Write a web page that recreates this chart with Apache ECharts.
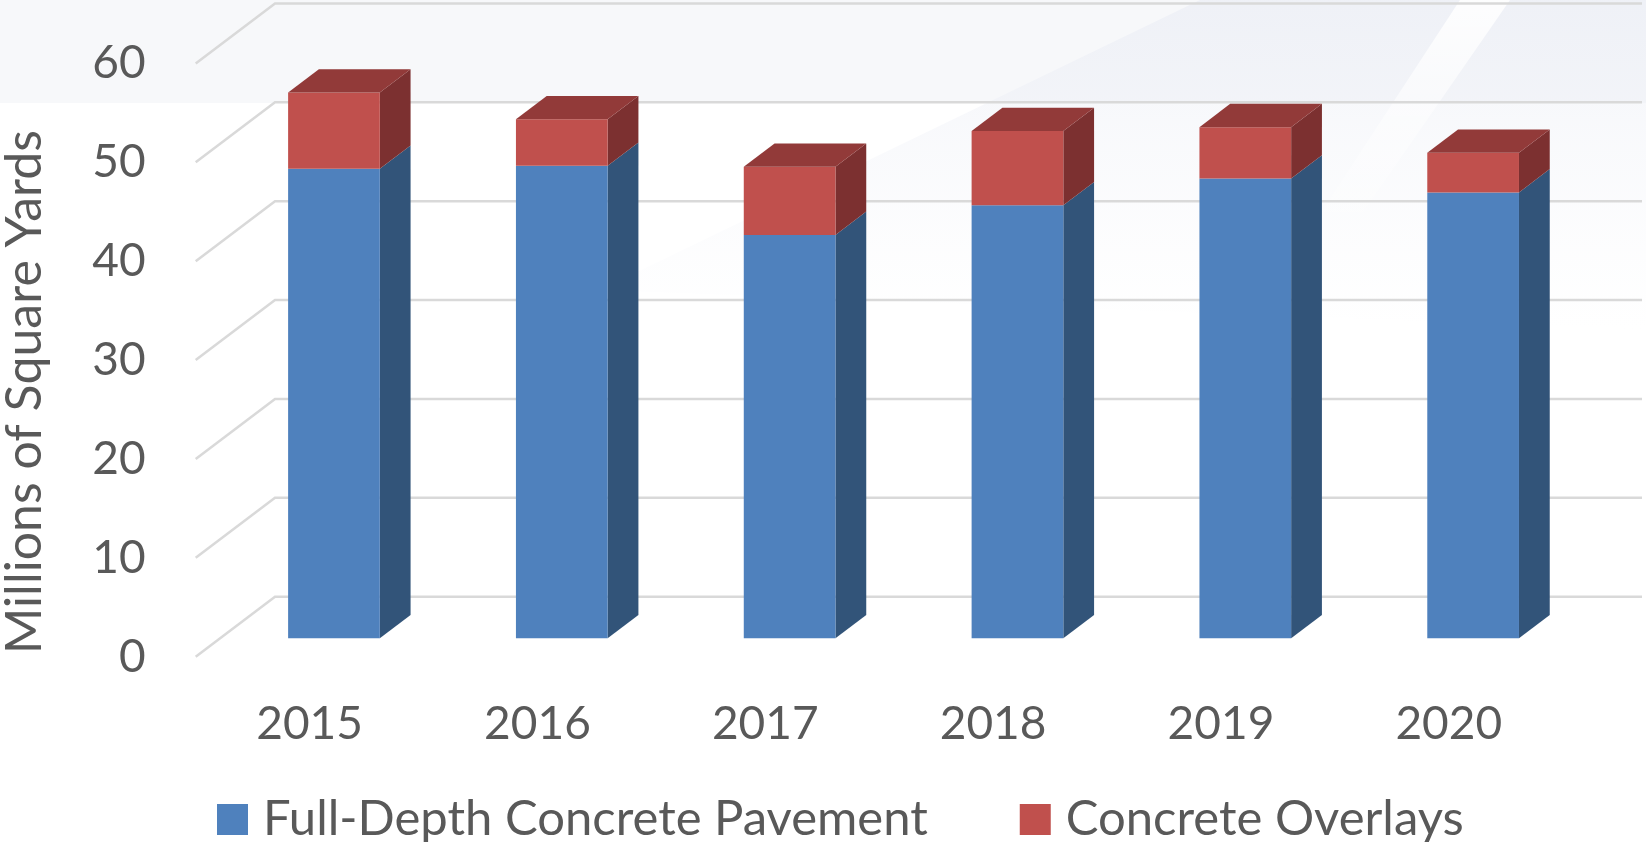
<!DOCTYPE html>
<html>
<head>
<meta charset="utf-8">
<script src="https://cdn.jsdelivr.net/npm/echarts@6/dist/echarts.min.js"></script>
<style>
  html, body { margin: 0; padding: 0; background: #ffffff; }
  #chart { width: 1646px; height: 842px; }
</style>
</head>
<body>
<div id="chart"></div>
<script>
// Yearly concrete paving, millions of square yards
const years = ['2015', '2016', '2017', '2018', '2019', '2020'];
const fullDepth = [47.5, 47.8, 40.8, 43.8, 46.5, 45.1];
const overlays = [7.7, 4.7, 6.9, 7.5, 5.2, 4.0];
const yTicks = [0, 10, 20, 30, 40, 50, 60];

const seriesNames = ['Full-Depth Concrete Pavement', 'Concrete Overlays'];
const TEXT = '#595959';
const FONT = 'Lato, "Open Sans", sans-serif';

// Oblique projection: full floor depth, in pixels (goes right and up)
const DEPTH_X = 79.3;
const DEPTH_Y = -60;
// Bars occupy the middle of the floor depth
const BAR_FRONT = 0.307;
const BAR_BACK = 0.695;
// Front face width as a share of the category band
const BAR_RATIO = 0.4025;

const palette = {
  blue: { front: '#4f81bd', side: '#325479', top: '#3f6798' },
  red:  { front: '#c0504d', side: '#7c3030', top: '#923a39' }
};

function prismRenderer(colors, withTop) {
  return function (params, api) {
    const cat = api.value(0);
    const base = api.value(1);
    const top = api.value(2);
    const band = api.size([1, 0])[0];
    const w = band * BAR_RATIO;
    const pb = api.coord([cat, base]);
    const pt = api.coord([cat, top]);
    const fx = pb[0] - w / 2 + DEPTH_X * BAR_FRONT;
    const fyb = pb[1] + DEPTH_Y * BAR_FRONT;
    const fyt = pt[1] + DEPTH_Y * BAR_FRONT;
    const dx = DEPTH_X * (BAR_BACK - BAR_FRONT);
    const dy = DEPTH_Y * (BAR_BACK - BAR_FRONT);
    const children = [
      {
        type: 'polygon',
        shape: { points: [[fx + w, fyb], [fx + w + dx, fyb + dy], [fx + w + dx, fyt + dy], [fx + w, fyt]] },
        style: { fill: colors.side }
      },
      {
        type: 'rect',
        shape: { x: fx, y: fyt, width: w, height: fyb - fyt },
        style: { fill: colors.front }
      }
    ];
    if (withTop) {
      children.push({
        type: 'polygon',
        shape: { points: [[fx, fyt], [fx + w, fyt], [fx + w + dx, fyt + dy], [fx + dx, fyt + dy]] },
        style: { fill: colors.top }
      });
    }
    return { type: 'group', children: children };
  };
}

// Side-wall diagonal plus back-wall line for each value tick
function wallLineRenderer(params, api) {
  const cs = params.coordSys;
  const y = api.coord([0, api.value(1)])[1];
  const gx = cs.x;
  const gw = cs.width;
  return {
    type: 'polyline',
    shape: { points: [[gx, y], [gx + DEPTH_X, y + DEPTH_Y], [gx + gw + DEPTH_X, y + DEPTH_Y]] },
    style: { stroke: '#d9d9d9', lineWidth: 2.5, fill: null }
  };
}

const blueData = years.map((_, i) => [i, 0, fullDepth[i]]);
const redData = years.map((_, i) => [i, fullDepth[i], fullDepth[i] + overlays[i]]);
const gridData = yTicks.map(v => [0, v]);

const chart = echarts.init(document.getElementById('chart'), null, { renderer: 'canvas' });

chart.setOption({
  backgroundColor: '#ffffff',
  animation: false,
  graphic: [
    {
      type: 'rect', z: -10, silent: true,
      shape: { x: 0, y: 0, width: 1646, height: 103 },
      style: { fill: '#f7f8fa' }
    },
    {
      type: 'polygon', z: -9, silent: true,
      shape: { points: [[600, 290], [1200, 0], [1646, 0], [1646, 330]] },
      style: {
        fill: {
          type: 'linear', x: 0, y: 0, x2: 0, y2: 1,
          colorStops: [
            { offset: 0, color: 'rgba(232,235,244,0.55)' },
            { offset: 1, color: 'rgba(240,242,248,0.0)' }
          ]
        }
      }
    },
    {
      type: 'polygon', z: -8, silent: true,
      shape: { points: [[1290, 260], [1460, 0], [1510, 0], [1330, 260]] },
      style: {
        fill: {
          type: 'linear', x: 0, y: 0, x2: 0, y2: 1,
          colorStops: [
            { offset: 0, color: 'rgba(255,255,255,0.9)' },
            { offset: 1, color: 'rgba(255,255,255,0.0)' }
          ]
        }
      }
    },
    {
      type: 'text', silent: true,
      x: 25, y: 392, rotation: Math.PI / 2,
      style: {
        text: 'Millions of Square Yards',
        fill: TEXT, font: '50px ' + FONT,
        align: 'center', verticalAlign: 'middle'
      }
    }
  ],
  grid: { left: 195.7, right: 83.3, top: 63.5, bottom: 185.3 },
  legend: {
    data: seriesNames,
    left: 212, top: 790,
    icon: 'rect', itemWidth: 31, itemHeight: 31, itemGap: 92,
    textStyle: { color: TEXT, fontSize: 49, fontFamily: FONT, padding: [0, 0, 0, 10] }
  },
  xAxis: {
    type: 'category',
    data: years,
    axisLine: { show: false },
    axisTick: { show: false },
    splitLine: { show: false },
    axisLabel: { color: TEXT, fontSize: 46, fontFamily: FONT, margin: 44 }
  },
  yAxis: {
    type: 'value',
    min: 0, max: 60, interval: 10,
    axisLine: { show: false },
    axisTick: { show: false },
    splitLine: { show: false },
    axisLabel: { color: TEXT, fontSize: 46, fontFamily: FONT, margin: 50 }
  },
  series: [
    {
      type: 'custom', name: 'walls', z: 1, silent: true,
      renderItem: wallLineRenderer,
      encode: { x: 0, y: 1 },
      data: gridData
    },
    {
      type: 'custom', name: seriesNames[0], z: 2,
      itemStyle: { color: palette.blue.front },
      renderItem: prismRenderer(palette.blue, false),
      encode: { x: 0, y: [1, 2] },
      data: blueData
    },
    {
      type: 'custom', name: seriesNames[1], z: 3,
      itemStyle: { color: palette.red.front },
      renderItem: prismRenderer(palette.red, true),
      encode: { x: 0, y: [1, 2] },
      data: redData
    }
  ]
});
</script>
</body>
</html>
